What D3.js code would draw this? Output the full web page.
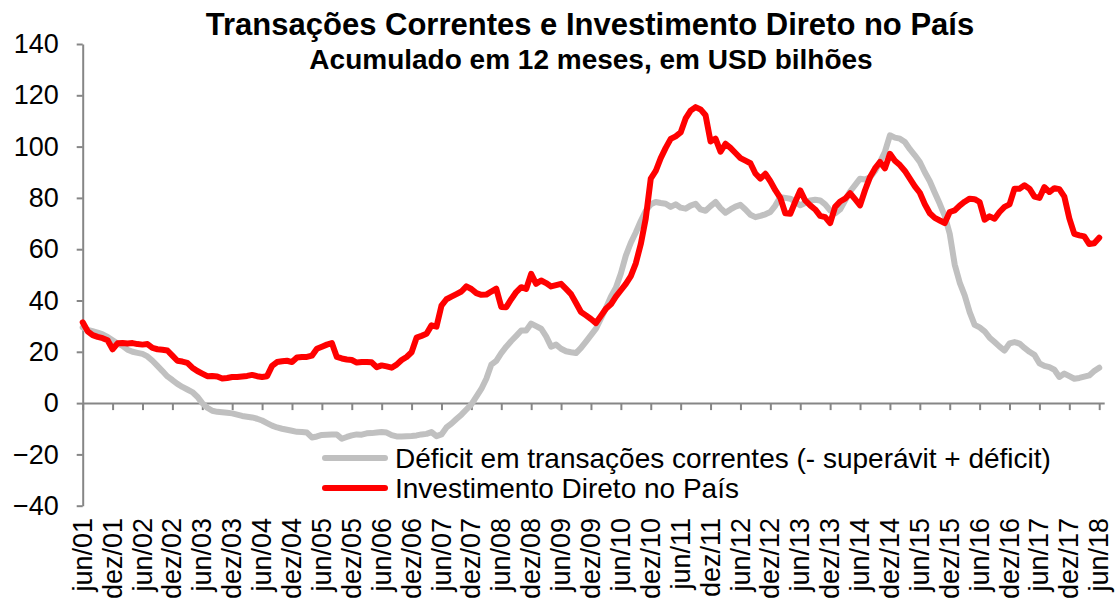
<!DOCTYPE html>
<html>
<head>
<meta charset="utf-8">
<script src="https://cdn.jsdelivr.net/npm/d3@7"></script>
<style>
  body { margin: 0; background: #fff; }
  svg { display: block; }
  text { font-family: "Liberation Sans", Arial, sans-serif; fill: #000; }
</style>
</head>
<body>
<div id="chart"></div>
<script>
'use strict';

//tick labels of the category axis (one every 6 months)
var tickLabels = ['jun/01', 'dez/01', 'jun/02', 'dez/02', 'jun/03', 'dez/03', 'jun/04', 'dez/04',
    'jun/05', 'dez/05', 'jun/06', 'dez/06', 'jun/07', 'dez/07', 'jun/08', 'dez/08', 'jun/09',
    'dez/09', 'jun/10', 'dez/10', 'jun/11', 'dez/11', 'jun/12', 'dez/12', 'jun/13', 'dez/13',
    'jun/14', 'dez/14', 'jun/15', 'dez/15', 'jun/16', 'dez/16', 'jun/17', 'dez/17', 'jun/18'];

var yTicks = [-40, -20, 0, 20, 40, 60, 80, 100, 120, 140];

//monthly values, jun/01 .. jun/18, USD billions (12-month sums)
var deficit = [
    29.5, 28.5, 28, 27.5, 26.8, 25.8, 24.5, 23.2, 22.3, 20.8, 20, 19.6,
    19.2, 18.2, 16.5, 14.5, 12.5, 10.4, 9, 7.5, 6.3, 5.3, 4.3, 2.5,
    0, -1.8, -3, -3.4, -3.6, -3.8, -4, -4.5, -5, -5.3, -5.6, -6.1,
    -6.8, -7.8, -8.8, -9.5, -10, -10.4, -10.8, -11.2, -11.3, -11.5, -13.4, -13,
    -12.4, -12.3, -12.2, -12.2, -13.9, -13.2, -12.6, -12.2, -12.3, -11.8, -11.7, -11.5,
    -11.3, -11.5, -12.5, -13, -13, -12.9, -12.8, -12.6, -12.2, -12, -11.3, -12.9,
    -12.2, -9.5, -8, -6.2, -4.5, -2.5, -0.5, 2.5, 5.5, 9.5, 15, 16.5,
    19.5, 22, 24.2, 26.2, 28.3, 28.3, 31, 30, 29, 26, 22, 22.8,
    21.2, 20.2, 19.8, 19.5, 21.5, 24, 26.5, 29, 33, 37, 41.5, 45,
    50.5, 57.5, 62.5, 66.5, 71, 75, 77.5, 78.4, 78, 77.7, 76.5, 77.5,
    76.2, 75.8, 77, 77.7, 75.5, 75, 76.8, 78.4, 76, 74.2, 75.5, 76.6,
    77.3, 75.5, 73.4, 72.5, 73, 73.6, 74.5, 77, 80.3, 80, 79.7, 78.5,
    77.1, 78, 79, 79.3, 79, 77.5, 75.1, 74, 75.5, 79, 82.5, 85,
    87.5, 87.2, 88, 90.5, 94, 98, 104.4, 103.5, 103.1, 101.8, 99, 96.6,
    94, 90, 86.5, 82, 77.7, 73, 66, 54, 47, 42, 35.5, 30.5,
    29.5, 28, 25.5, 23.8, 22, 20.5, 23.3, 23.8, 23.2, 21.5, 20, 18.8,
    15.5, 14.5, 14, 13, 10.2, 11.5, 10.5, 9.5, 9.8, 10.3, 10.8, 12.5,
    13.8
];

var investimento = [
    31.5, 28, 26.5, 25.8, 25.3, 24.5, 21, 23.3, 23.4, 23.2, 23.4, 23,
    22.8, 23, 21.5, 21, 20.8, 20.5, 18.5, 16.5, 16.2, 15.7, 13.8, 12.5,
    11.5, 10.5, 10.6, 10.4, 9.6, 9.8, 10.2, 10.2, 10.4, 10.6, 11, 10.5,
    10.2, 10.5, 14.5, 16, 16.3, 16.5, 16, 17.8, 18, 18, 18.5, 21.2,
    22, 22.8, 23.4, 18, 17.4, 17, 16.8, 15.8, 16, 16, 15.9, 14, 14.7,
    14.3, 13.8, 15, 16.8, 18, 19.8, 25.5, 26.2, 27, 30.3, 29.8,
    38, 40.5, 41.5, 42.5, 43.5, 45.5, 44.5, 42.9, 42.2, 42.3, 43.5, 44.6,
    37.5, 37.4, 40.5, 43.3, 45.2, 44.5, 50.4, 46.5, 47.8, 46.8, 45.5, 46,
    46.5, 44.5, 42.5, 39, 35.5, 34.2, 32.8, 31.2, 34, 36.8, 38.5, 41.5,
    44, 46.5, 49.5, 54.5, 62, 72, 87.5, 90.5, 95.5, 99.5, 103, 104,
    105.5, 111, 114, 115.4, 114.5, 112.2, 102, 103.1, 98, 101.1, 99.5, 97.5,
    95.5, 94.5, 93.5, 89.5, 87.5, 89.4, 86.5, 83, 80, 74, 73.8, 78.5,
    82.9, 79, 77.1, 75.5, 73, 72.5, 70.2, 76.5, 78.6, 79.7, 81.8, 79.5,
    77.1, 83, 88.1, 91.5, 94, 91.5, 97.2, 94.5, 92.8, 90.5, 87.5, 84.5,
    82, 77.5, 74, 72.2, 71.2, 70.2, 74.5, 75.1, 77, 78.5, 79.7, 79.5,
    78.4, 71.5, 72.8, 71.9, 74.5, 76.5, 77.5, 83.6, 83.6, 84.9, 83.6, 80.5,
    80, 84.2, 82.3, 83.8, 83.4, 80.5, 72, 66, 65.4, 65, 62, 62.3,
    64.5
];

var seriesNames = ['Déficit em transações correntes (- superávit + déficit)', 'Investimento Direto no País'];
var seriesColors = ['#c0c0c0', '#ff0000'];

var W = 1120, H = 604;
var plot = { left: 82.7, right: 1104.2, top: 44, bottom: 505.7 };
var axisColor = '#868686';

var svg = d3.select('#chart').append('svg')
    .attr('width', W)
    .attr('height', H);

//one category per month, points sit on the category boundary
var x = d3.scaleLinear().domain([0, 205]).range([plot.left, plot.right]);
var y = d3.scaleLinear().domain([-40, 140]).range([plot.bottom, plot.top]);

//title
svg.append('text')
    .text('Transações Correntes e Investimento Direto no País')
    .attr('x', 590).attr('y', 35)
    .attr('text-anchor', 'middle')
    .style('font-size', '31px').style('font-weight', 'bold');
svg.append('text')
    .text('Acumulado em 12 meses, em USD bilhões')
    .attr('x', 591).attr('y', 69)
    .attr('text-anchor', 'middle')
    .style('font-size', '28px').style('font-weight', 'bold');

//y axis
var yAxis = svg.append('g')
    .attr('transform', 'translate(' + plot.left + ',0)')
    .call(d3.axisLeft(y).tickValues(yTicks).tickSize(6).tickSizeOuter(0).tickPadding(18));
yAxis.selectAll('text')
    .attr('fill', '#000')
    .style('font-size', '27px')
    .style('font-family', '"Liberation Sans", Arial, sans-serif');

//x axis on the zero line, ticks every 6 months
var xTickValues = d3.range(0, 205, 6);
svg.append('g')
    .attr('transform', 'translate(0,' + y(0) + ')')
    .call(d3.axisBottom(x).tickValues(xTickValues).tickSize(7).tickSizeOuter(0).tickFormat(''));

//category labels under the plot, rotated
var xLabels = svg.append('g')
    .attr('transform', 'translate(0,518)')
    .call(d3.axisBottom(x).tickValues(xTickValues).tickSize(0)
        .tickFormat(function (d, i) { return tickLabels[i]; }));
xLabels.select('.domain').remove();
xLabels.selectAll('text')
    .attr('y', 0).attr('x', 0).attr('dy', '0.28em')
    .attr('transform', 'translate(1,0) rotate(-90)')
    .attr('text-anchor', 'end')
    .attr('fill', '#000')
    .style('font-size', '27px')
    .style('font-family', '"Liberation Sans", Arial, sans-serif');

svg.selectAll('.domain, .tick line')
    .attr('stroke', axisColor)
    .attr('stroke-width', 2);

//series
var line = d3.line()
    .x(function (d, i) { return x(i); })
    .y(function (d) { return y(d); });

[deficit, investimento].forEach(function (s, k) {
    svg.append('path')
        .datum(s)
        .attr('d', line)
        .attr('fill', 'none')
        .attr('stroke', seriesColors[k])
        .attr('stroke-width', 6)
        .attr('stroke-linejoin', 'round')
        .attr('stroke-linecap', 'round');
});

//legend
var legend = svg.append('g').attr('transform', 'translate(325,458)');
seriesNames.forEach(function (name, k) {
    var row = legend.append('g').attr('transform', 'translate(0,' + (k * 30) + ')');
    row.append('line')
        .attr('x1', 0).attr('x2', 60)
        .attr('stroke', seriesColors[k])
        .attr('stroke-width', 6)
        .attr('stroke-linecap', 'round');
    row.append('text')
        .text(name)
        .attr('x', 70).attr('dy', '0.36em')
        .style('font-size', '28px');
});
</script>
</body>
</html>
